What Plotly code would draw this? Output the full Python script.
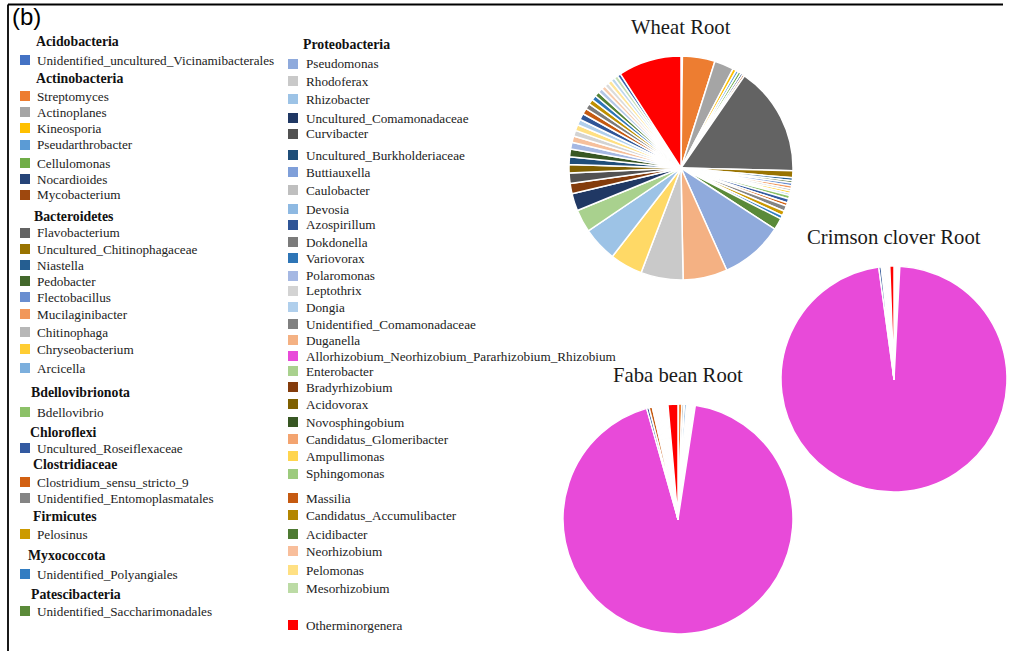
import plotly.graph_objects as go

W, H = 1013, 651

# ---------------- data ----------------
groups = ["Acidobacteria", "Actinobacteria", "Bacteroidetes", "Bdellovibrionota",
          "Chloroflexi", "Clostridiaceae", "Firmicutes", "Myxococcota",
          "Patescibacteria", "Proteobacteria"]
group_sizes = [1, 7, 9, 1, 1, 2, 1, 1, 1, 31]

genera = [
    "Unidentified_uncultured_Vicinamibacterales",
    "Streptomyces", "Actinoplanes", "Kineosporia", "Pseudarthrobacter",
    "Cellulomonas", "Nocardioides", "Mycobacterium",
    "Flavobacterium", "Uncultured_Chitinophagaceae", "Niastella", "Pedobacter",
    "Flectobacillus", "Mucilaginibacter", "Chitinophaga", "Chryseobacterium", "Arcicella",
    "Bdellovibrio",
    "Uncultured_Roseiflexaceae",
    "Clostridium_sensu_stricto_9", "Unidentified_Entomoplasmatales",
    "Pelosinus",
    "Unidentified_Polyangiales",
    "Unidentified_Saccharimonadales",
    "Pseudomonas", "Rhodoferax", "Rhizobacter", "Uncultured_Comamonadaceae",
    "Curvibacter", "Uncultured_Burkholderiaceae", "Buttiauxella", "Caulobacter",
    "Devosia", "Azospirillum", "Dokdonella", "Variovorax", "Polaromonas",
    "Leptothrix", "Dongia", "Unidentified_Comamonadaceae", "Duganella",
    "Allorhizobium_Neorhizobium_Pararhizobium_Rhizobium", "Enterobacter",
    "Bradyrhizobium", "Acidovorax", "Novosphingobium", "Candidatus_Glomeribacter",
    "Ampullimonas", "Sphingomonas", "Massilia", "Candidatus_Accumulibacter",
    "Acidibacter", "Neorhizobium", "Pelomonas", "Mesorhizobium",
    "Otherminorgenera",
]

# relative abundance (%), same order as genera
wheat = [0.2, 4.7, 2.8, 0.5, 0.4, 0.4, 0.3, 0.3,
         15.8, 1.0, 0.4, 0.35, 0.4, 0.4, 0.35, 0.35, 0.3,
         0.5, 0.6, 0.45, 0.8, 0.7, 0.5, 1.7,
         9.1, 6.4, 6.1, 4.7, 5.0, 3.3, 2.5, 1.5, 1.5, 1.2, 1.1, 1.1,
         1.0, 0.9, 0.85, 0.85, 0.8, 0.05,
         0.9, 0.85, 0.8, 0.75, 0.7, 0.7, 0.65, 0.6, 0.6, 0.6, 0.55, 0.55, 0.5,
         9.1]
faba = [0.05, 0.5, 0.3, 0.05, 0.3, 0.05, 0.05, 0.05,
        0.1, 0.03, 0.03, 0.03, 0.03, 0.03, 0.03, 0.03, 0.03,
        0.03, 0.03, 0.03, 0.03, 0.03, 0.03, 0.03,
        0.03, 0.03, 0.03, 0.03, 0.03, 0.03, 0.03, 0.03, 0.03, 0.03, 0.03, 0.03,
        0.03, 0.03, 0.03, 0.03, 0.03, 93.3,
        0.35, 0.45, 0.2, 0.2, 0.2, 0.2, 0.2, 0.2, 0.2, 0.2, 0.2, 0.2, 0.2,
        1.4]
clover = [0.02] * 41 + [96.9] + [0.35, 0.1] + [0.1] * 11 + [0.6]

# slice colours (chart palette, by position) and legend swatch colours
pie_colors = [
    "#4472C4", "#ED7D31", "#A5A5A5", "#FFC000", "#5B9BD5", "#70AD47",
    "#264478", "#9E480E", "#636363", "#997300", "#255E91", "#43682B",
    "#698ED0", "#F1975A", "#B7B7B7", "#FFCD33", "#7CAFDD", "#8CC168",
    "#335AA1", "#D26012", "#848484", "#CC9A00", "#327DC2", "#5A8A39",
    "#8FAADC", "#F4B183", "#C9C9C9", "#FFD966", "#9DC3E6", "#A9D18E",
    "#203864", "#843C0C", "#525252", "#7F6000", "#1F4E79", "#385723",
    "#A5B8E3", "#F6C09C", "#D3D3D3", "#FFE083", "#B0CFEC", "#E84AD9",
    "#2F5597", "#C55A11", "#7B7B7B", "#BF9000", "#2E75B6", "#548235",
    "#B4C7E7", "#F8CBAD", "#DBDBDB", "#FFE699", "#BDD7EE", "#C5E0B4",
    "#3B64AD", "#FF0000",
]
legend_colors = pie_colors[:24] + [
    "#8FAADC", "#C9C9C9", "#9DC3E6", "#203864", "#525252", "#1F4E79",
    "#7F9FD9", "#BFBFBF", "#8EB9E2", "#2F5597", "#7B7B7B", "#2E75B6",
    "#A5B8E3", "#D3D3D3", "#B0CFEC", "#808080", "#F4B183", "#E84AD9",
    "#A9D18E", "#843C0C", "#7F6000", "#385723", "#F3A470", "#FFD54F",
    "#9DCB7D", "#C55A11", "#B38600", "#4E7A32", "#F8BE9B", "#FFE083",
    "#BCDBA5", "#FF0000",
]

pie_titles = ["Wheat Root", "Faba bean Root", "Crimson clover Root"]

# ---------------- layout helpers (pixel positions) ----------------
row_y = [60, 96, 112, 128, 145, 163, 179, 195,
         233, 249, 265, 281, 297, 314, 332, 349, 368,
         412, 448, 482, 498, 534, 574, 611,
         64, 81, 99, 118, 134, 155, 172, 190, 209, 225, 242, 258, 276, 291,
         307, 324, 340, 356, 371, 387, 404, 422, 439, 456, 474, 498, 515,
         534, 551, 570, 588, 625]
header_y = [42, 78, 216, 392, 432, 464, 516, 555, 594, 44]
header_x = [35, 35, 33, 30, 29, 32, 32, 27, 30, 302]

def px(x):
    return x / W

def py(y):
    return 1 - y / H

SERIF = "Liberation Serif"

fig = go.Figure()

# pies: (center x, center y, radius) in pixels
pie_geo = [(681, 168, 112), (678, 519, 115), (894, 379, 113)]
for vals, (cx, cy, r) in zip([wheat, faba, clover], pie_geo):
    fig.add_trace(go.Pie(
        labels=genera, values=vals, sort=False, direction="clockwise",
        rotation=0, textinfo="none", hoverinfo="label+percent",
        marker=dict(colors=pie_colors, line=dict(color="white", width=1.5)),
        domain=dict(x=[px(cx - r), px(cx + r)], y=[py(cy + r), py(cy - r)]),
        showlegend=False,
    ))

annotations = []
shapes = []

# pie titles
title_pos = [(681, 27), (678, 375), (894, 237)]
for t, (tx, ty) in zip(pie_titles, title_pos):
    annotations.append(dict(x=px(tx), y=py(ty), xref="paper", yref="paper",
                            text=t, showarrow=False, xanchor="center", yanchor="middle",
                            font=dict(family=SERIF, size=20.7, color="#1a1a1a")))

# custom grouped legend: group headers
for gi, g in enumerate(groups):
    annotations.append(dict(x=px(header_x[gi] - 1), y=py(header_y[gi]), xref="paper", yref="paper",
                            text="<b>" + g + "</b>", showarrow=False,
                            xanchor="left", yanchor="middle",
                            font=dict(family=SERIF, size=13.8, color="#111")))

# legend entries
for i, name in enumerate(genera):
    col2 = i >= sum(group_sizes[:-1])
    sx = 288 if col2 else 20
    tx = 304 if col2 else 35
    yc = row_y[i]
    shapes.append(dict(type="rect", xref="paper", yref="paper",
                       x0=px(sx), x1=px(sx + 10), y0=py(yc + 5), y1=py(yc - 5),
                       fillcolor=legend_colors[i], line=dict(width=0)))
    annotations.append(dict(x=px(tx), y=py(yc), xref="paper", yref="paper",
                            text=name, showarrow=False, xanchor="left", yanchor="middle",
                            font=dict(family=SERIF, size=13.2, color="#222")))

# panel label and frame
annotations.append(dict(x=px(10), y=py(17), xref="paper", yref="paper", text="(b)",
                        showarrow=False, xanchor="left", yanchor="middle",
                        font=dict(family="Liberation Sans", size=24, color="black")))
shapes.append(dict(type="line", xref="paper", yref="paper",
                   x0=px(8), y0=py(651), x1=px(8), y1=py(4.5),
                   line=dict(color="black", width=1.8)))
shapes.append(dict(type="line", xref="paper", yref="paper",
                   x0=px(8), y0=py(4.5), x1=px(1003), y1=py(4.5),
                   line=dict(color="black", width=1.8)))

fig.update_layout(
    width=W, height=H,
    margin=dict(l=0, r=0, t=0, b=0),
    paper_bgcolor="white", plot_bgcolor="white",
    annotations=annotations, shapes=shapes,
    showlegend=False,
)

fig.write_html("out.html", config={"displayModeBar": False},
               post_script="document.body.style.margin='0px';document.body.style.overflow='hidden';")
